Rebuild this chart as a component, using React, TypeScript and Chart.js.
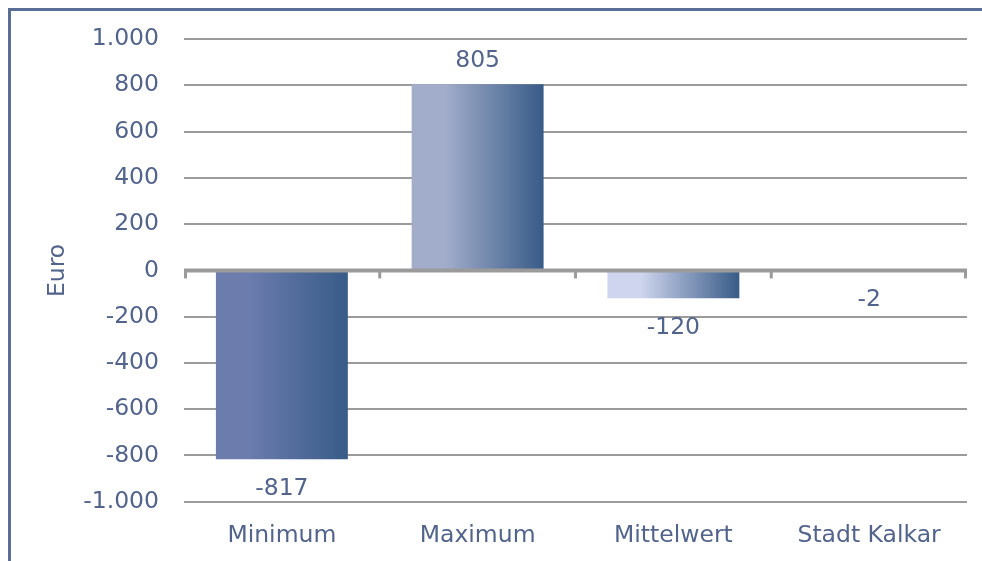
import React, { useEffect, useRef } from "react";
import { Chart, registerables } from "chart.js";

Chart.register(...registerables);

const categories = ["Minimum", "Maximum", "Mittelwert", "Stadt Kalkar"];
const values = [-817, 805, -120, -2];
const gradientStarts = ["#6b7cad", "#a2adcb", "#cfd5ee", "#8a9cc4"];
const gradientEnd = "#385b87";
const yTicks = [-1000, -800, -600, -400, -200, 0, 200, 400, 600, 800, 1000];
const axisTitle = "Euro";

const FONT = "'DejaVu Sans', Verdana, sans-serif";
const TEXT = "#52648b";
const GRID = "#9b9b9b";
const FONT_SIZE = 23.5;
const BAR_PCT = 0.674;

const formatDE = (v: number) => {
  const s = Math.abs(v).toString().replace(/\B(?=(\d{3})+(?!\d))/g, ".");
  return (v < 0 ? "-" : "") + s;
};

// frame, zero line with category tick marks, and value labels
const decorations = {
  id: "decorations",
  beforeDraw(chart: any) {
    const { ctx } = chart;
    ctx.save();
    ctx.strokeStyle = "#5a6d95";
    ctx.lineWidth = 3;
    ctx.beginPath();
    ctx.moveTo(9.5, chart.height + 5);
    ctx.lineTo(9.5, 9.5);
    ctx.lineTo(chart.width + 5, 9.5);
    ctx.stroke();
    ctx.restore();
  },
  afterDatasetsDraw(chart: any) {
    const { ctx, chartArea } = chart;
    const x = chart.scales.x;
    const y = chart.scales.y;
    const y0 = y.getPixelForValue(0);
    ctx.save();
    ctx.strokeStyle = GRID;
    ctx.lineWidth = 4;
    ctx.beginPath();
    ctx.moveTo(chartArea.left, y0);
    ctx.lineTo(chartArea.right, y0);
    ctx.stroke();
    ctx.lineWidth = 3;
    const n = categories.length;
    for (let i = 0; i <= n; i++) {
      const px = Math.min(
        Math.max(chartArea.left + ((chartArea.right - chartArea.left) * i) / n, chartArea.left + 1.5),
        chartArea.right - 1.5
      );
      ctx.beginPath();
      ctx.moveTo(px, y0);
      ctx.lineTo(px, y0 + 8);
      ctx.stroke();
    }

    ctx.fillStyle = TEXT;
    ctx.font = `${FONT_SIZE}px ${FONT}`;
    ctx.textAlign = "center";
    ctx.textBaseline = "alphabetic";
    const cap = FONT_SIZE * 0.729;
    const meta = chart.getDatasetMeta(0);
    meta.data.forEach((bar: any, i: number) => {
      const v = values[i];
      const end = y.getPixelForValue(v);
      const cy = v >= 0 ? end - 26 : end + 27;
      ctx.fillText(formatDE(v), x.getPixelForValue(i), cy + cap / 2);
    });
    ctx.restore();
  },
};

export default function App() {
  const ref = useRef<HTMLCanvasElement | null>(null);

  useEffect(() => {
    if (!ref.current) return;
    const chart = new Chart(ref.current, {
      type: "bar",
      data: {
        labels: categories,
        datasets: [
          {
            data: values,
            barPercentage: BAR_PCT,
            categoryPercentage: 1,
            borderWidth: 0,
            backgroundColor: (c: any) => {
              const ch = c.chart;
              const i = c.dataIndex;
              const area = ch.chartArea;
              const xs = ch.scales && ch.scales.x;
              if (!area || !xs || i === undefined) return gradientStarts[0];
              const cw = (area.right - area.left) / categories.length;
              const cx = xs.getPixelForValue(i);
              const w = cw * BAR_PCT;
              const g = ch.ctx.createLinearGradient(cx - w / 2, 0, cx + w / 2, 0);
              g.addColorStop(0, gradientStarts[i]);
              g.addColorStop(0.25, gradientStarts[i]);
              g.addColorStop(1, gradientEnd);
              return g;
            },
          },
        ],
      },
      options: {
        animation: false,
        responsive: false,
        maintainAspectRatio: false,
        layout: { padding: { top: 37.7, right: 15, bottom: 0, left: 0 } },
        plugins: {
          legend: { display: false },
          tooltip: { enabled: false },
        },
        scales: {
          x: {
            grid: { display: false, drawTicks: false },
            border: { display: false },
            ticks: {
              color: TEXT,
              font: { family: FONT, size: FONT_SIZE },
              padding: 20,
              maxRotation: 0,
              autoSkip: false,
            },
            afterFit: (s: any) => {
              s.height = 59.3;
            },
          },
          y: {
            min: -1000,
            max: 1000,
            afterBuildTicks: (s: any) => {
              s.ticks = yTicks.map((v) => ({ value: v }));
            },
            grid: {
              color: GRID,
              lineWidth: (c: any) => (c.tick && c.tick.value === 0 ? 0 : 2),
              drawTicks: false,
            },
            border: { display: false },
            ticks: {
              color: TEXT,
              font: { family: FONT, size: FONT_SIZE },
              padding: 25,
              callback: (v: any) => formatDE(Number(v)),
            },
            title: {
              display: true,
              text: axisTitle,
              color: TEXT,
              font: { family: FONT, size: FONT_SIZE },
              padding: { top: 44, bottom: 0 },
            },
            afterFit: (s: any) => {
              s.width = 184;
            },
          },
        },
      },
      plugins: [decorations],
    });
    return () => chart.destroy();
  }, []);

  return (
    <div style={{ position: "fixed", left: 0, top: 0, width: 982, height: 561, background: "#fff" }}>
      <canvas ref={ref} width={982} height={561} style={{ display: "block" }} />
    </div>
  );
}
